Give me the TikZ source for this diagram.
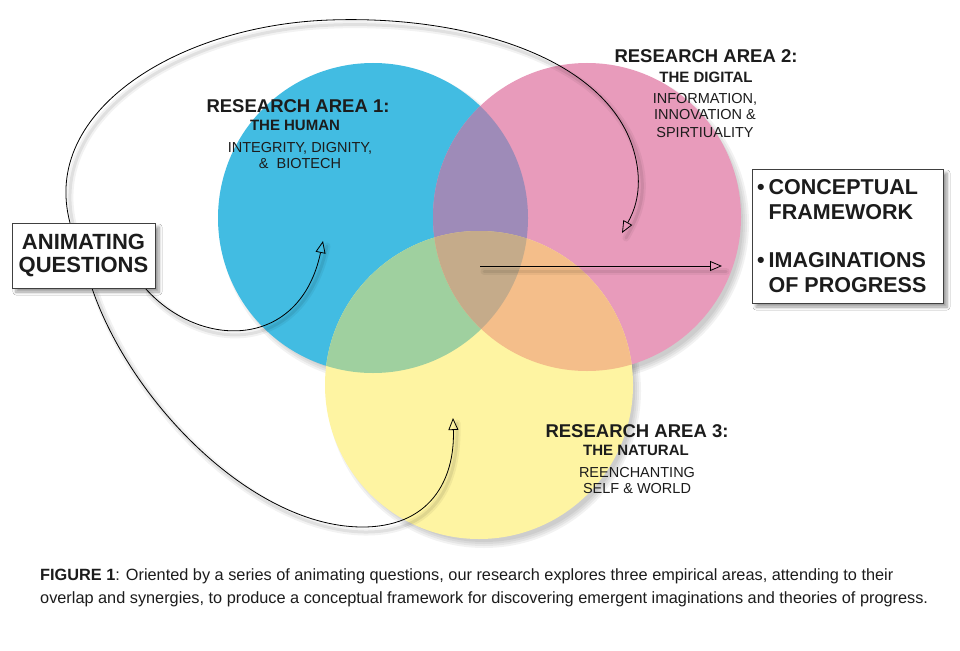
\documentclass[tikz,border=0pt]{standalone}
\usepackage{fontspec}
\setmainfont{Liberation Sans}
\usetikzlibrary{arrows.meta,calc,shadows.blur}
\definecolor{cblue}{RGB}{66,188,226}
\definecolor{cpink}{RGB}{232,155,187}
\definecolor{cyellow}{RGB}{254,244,162}
\definecolor{cpurple}{RGB}{158,139,184}
\definecolor{cgreen}{RGB}{159,208,159}
\definecolor{corange}{RGB}{244,190,138}
\definecolor{cbrown}{RGB}{197,171,138}
\definecolor{ink}{RGB}{28,28,28}
\begin{document}
\begin{tikzpicture}[x=1pt,y=-1pt,
  conn/.style={draw=black, line width=0.8pt, -{Triangle[open,length=12pt,width=10pt]},
    preaction={draw=black, arrows=-, opacity=0.05, line width=7pt, line cap=round, transform canvas={shift={(4pt,-5pt)}}},
    preaction={draw=black, arrows=-, opacity=0.07, line width=3pt, line cap=round, transform canvas={shift={(4pt,-5pt)}}}},
  boxnode/.style={draw=black!75, line width=0.8pt, fill=white, inner sep=0pt,
    blur shadow={shadow xshift=4pt, shadow yshift=-4pt, shadow blur steps=6, shadow blur radius=3pt}},
  titletxt/.style={font=\fontsize{18.5}{20}\selectfont\bfseries, anchor=base, inner sep=0pt, text=ink},
  subtxt/.style={font=\fontsize{15}{16}\selectfont\bfseries, anchor=base, inner sep=0pt, text=ink},
  bodytxt/.style={font=\fontsize{14.5}{16}\selectfont, anchor=base, inner sep=0pt, text=ink},
  captxt/.style={font=\fontsize{16.3}{18}\selectfont, anchor=base west, inner sep=0pt, text=ink}
]
\useasboundingbox (0,0) rectangle (960,650);
\fill[white] (0,0) rectangle (960,650);

% circle centres
\coordinate (B) at (373,218);
\coordinate (P) at (587,217);
\coordinate (Y) at (479,385);

% soft shadows of circles
\foreach \c/\r in {B/155,P/154,Y/154}{
  \foreach \d in {-3,-1,1,3}{
    \fill[black,opacity=0.05] ([shift={(5,6)}]\c) circle[radius={(\r+\d)*1pt}];
  }
}

% circles
\fill[cblue] (B) circle[radius=155pt];
\fill[cpink] (P) circle[radius=154pt];
\fill[cyellow] (Y) circle[radius=154pt];
\begin{scope}
  \clip (B) circle[radius=155pt];
  \fill[cpurple] (P) circle[radius=154pt];
\end{scope}
\begin{scope}
  \clip (B) circle[radius=155pt];
  \fill[cgreen] (Y) circle[radius=154pt];
\end{scope}
\begin{scope}
  \clip (P) circle[radius=154pt];
  \fill[corange] (Y) circle[radius=154pt];
\end{scope}
\begin{scope}
  \clip (B) circle[radius=155pt];
  \clip (P) circle[radius=154pt];
  \fill[cbrown] (Y) circle[radius=154pt];
\end{scope}

% area texts
\node[titletxt] (a1t) at (298,113) {RESEARCH AREA 1:};
\node[subtxt]   (a1s) at (295,131) {THE HUMAN};
\node[bodytxt]  (a1b) at (300,152) {INTEGRITY, DIGNITY,};
\node[bodytxt]  (a1c) at (300,168) {\& \ BIOTECH};

\node[titletxt] (a2t) at (706,63) {RESEARCH AREA 2:};
\node[subtxt]   (a2s) at (706,83) {THE DIGITAL};
\node[bodytxt]  (a2b) at (705,103) {INFORMATION,};
\node[bodytxt]  (a2c) at (705,120) {INNOVATION \&};
\node[bodytxt]  (a2d) at (705,137) {SPIRTIUALITY};

\node[titletxt] (a3t) at (637,437) {RESEARCH AREA 3:};
\node[subtxt]   (a3s) at (636,455) {THE NATURAL};
\node[bodytxt]  (a3b) at (637,477) {REENCHANTING};
\node[bodytxt]  (a3c) at (637,493) {SELF \& WORLD};

% arrow end points
\coordinate (t1) at (323,241);
\coordinate (t2) at (622,233);
\coordinate (t3) at (453,418);
\coordinate (hs) at (480,266);
\coordinate (he) at (722,266);

% box position (used by connectors)
\path (83.5,255.5) node[minimum width=143pt, minimum height=65pt, inner sep=0pt] (aqpos) {};

% connectors
\draw[conn] ($(aqpos.south east)+(-10,0)$) .. controls (200,350) and (300,350) .. (t1);
\draw[conn] ($(aqpos.north)+(-13.5,0)$) .. controls (40,110) and (180,25) .. (330,20)
            .. controls (470,15) and (620,60) .. (637,165)
            .. controls (642,196) and (632,215) .. (t2);
\draw[conn] ($(aqpos.south)+(8.5,0)$) .. controls (130,400) and (250,525) .. (360,527)
            .. controls (430,528) and (455,480) .. (t3);
\draw[conn] (hs) -- (he);

% boxes
\node[boxnode, minimum width=143pt, minimum height=65pt, align=center,
      font=\fontsize{22}{23}\selectfont\bfseries, text=ink] (aq) at (aqpos) {ANIMATING\\QUESTIONS};
\node[boxnode, minimum width=191pt, minimum height=134pt, align=left,
      font=\fontsize{21.5}{25}\selectfont\bfseries, text=ink] (cf) at (847.5,236)
      {\llap{•\hspace{4pt}}CONCEPTUAL\\FRAMEWORK\\[23pt]\llap{•\hspace{4pt}}IMAGINATIONS\\OF PROGRESS};

% caption
\node[captxt] (cap1) at (40,580) {\textbf{FIGURE 1}: Oriented by a series of animating questions, our research explores three empirical areas, attending to their};
\node[captxt] (cap2) at (40,603) {overlap and synergies, to produce a conceptual framework for discovering emergent imaginations and theories of progress.};
\end{tikzpicture}
\end{document}
